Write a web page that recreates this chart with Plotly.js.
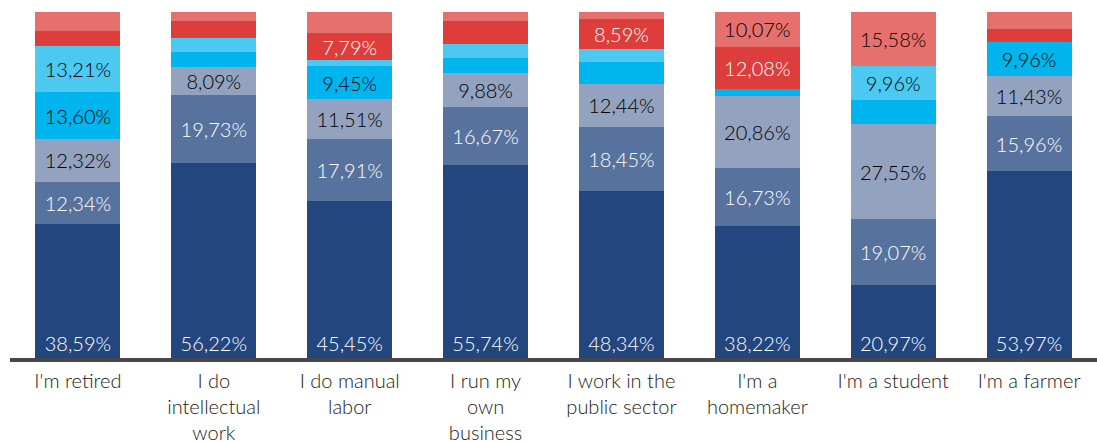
<!DOCTYPE html>
<html>
<head>
<meta charset="utf-8">
<script src="https://cdn.plot.ly/plotly-3.0.1.min.js"></script>
<style>html,body{margin:0;padding:0;background:#fff;}#chart{width:1097px;height:442px;}</style>
</head>
<body>
<div id="chart"></div>
<script>
const categories = ["I'm retired", "I do<br>intellectual<br>work", "I do manual<br>labor", "I run my<br>own<br>business", "I work in the<br>public sector", "I'm a<br>homemaker", "I'm a student", "I'm a farmer"];

const seriesNavy      = [38.59, 56.22, 45.45, 55.74, 48.34, 38.22, 20.97, 53.97];
const seriesMidBlue   = [12.34, 19.73, 17.91, 16.67, 18.45, 16.73, 19.07, 15.96];
const seriesGrayBlue  = [12.32, 8.09, 11.51, 9.88, 12.44, 20.86, 27.55, 11.43];
const seriesCyan      = [13.60, 4.50, 9.45, 4.50, 6.25, 2.04, 6.87, 9.96];
const seriesLightCyan = [13.21, 3.90, 1.75, 3.90, 3.95, 0.00, 9.96, 0.00];
const seriesRed       = [4.50, 5.10, 7.79, 6.75, 8.59, 12.08, 0.00, 3.90];
const seriesLightRed  = [5.44, 2.46, 6.14, 2.56, 1.98, 10.07, 15.58, 4.78];

const labelThreshold = 7.5;
function labels(vals) {
  return vals.map(v => v >= labelThreshold ? v.toFixed(2).replace('.', ',') + '%' : '');
}

const FONT = 'Lato, "Open Sans", sans-serif';

function mk(vals, color, textColor, anchor) {
  return {
    type: 'bar',
    x: categories,
    y: vals,
    marker: {color: color, line: {width: 0}},
    text: labels(vals),
    textposition: 'inside',
    insidetextanchor: anchor || 'middle',
    textangle: 0,
    constraintext: 'none',
    textfont: {family: FONT, size: 20, weight: 300, color: textColor},
    hoverinfo: 'none',
    showlegend: false
  };
}

const data = [
  mk(seriesNavy, '#23467f', '#ffffff', 'start'),
  mk(seriesMidBlue, '#58729e', '#ffffff'),
  mk(seriesGrayBlue, '#92a2bf', '#000000'),
  mk(seriesCyan, '#00b5ee', '#000000'),
  mk(seriesLightCyan, '#4bc9f1', '#000000'),
  mk(seriesRed, '#dd3e3c', '#ffffff'),
  mk(seriesLightRed, '#e6706e', '#000000')
];

const layout = {
  width: 1097,
  height: 442,
  margin: {l: 10, r: 0, t: 12, b: 84},
  barmode: 'stack',
  bargap: 0.375,
  paper_bgcolor: '#ffffff',
  plot_bgcolor: '#ffffff',
  xaxis: {
    type: 'category',
    showline: true,
    linecolor: '#484848',
    linewidth: 4,
    showgrid: false,
    zeroline: false,
    ticks: '',
    ticklabelstandoff: 2,
    tickfont: {family: FONT, size: 20, weight: 300, color: '#222222'},
    fixedrange: true
  },
  yaxis: {
    range: [0, 100],
    visible: false,
    showgrid: false,
    zeroline: false,
    fixedrange: true
  },
  font: {family: FONT}
};

Plotly.newPlot('chart', data, layout, {displayModeBar: false, staticPlot: true});
</script>
</body>
</html>
